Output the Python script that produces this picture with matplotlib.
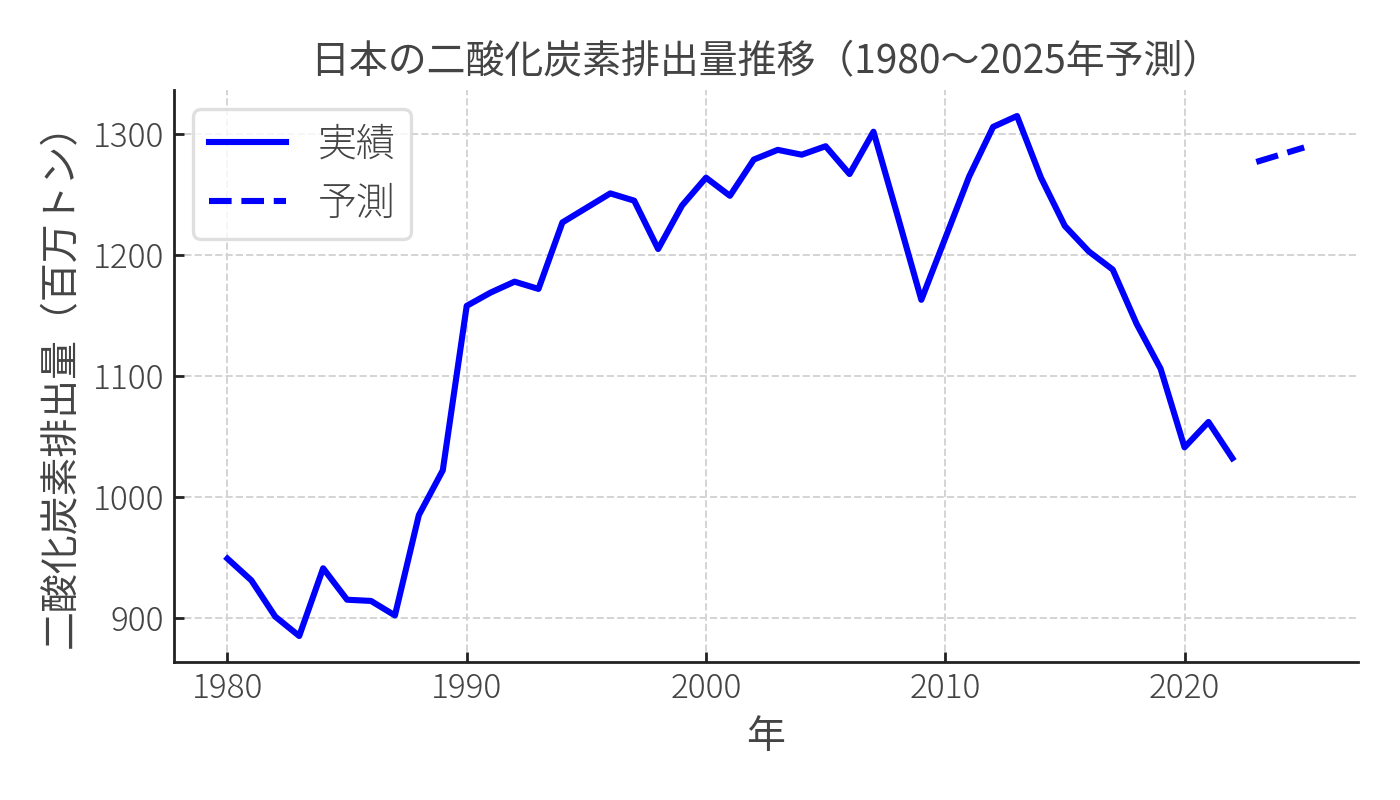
import numpy as np
import matplotlib
matplotlib.use('Agg')
import matplotlib.pyplot as plt

plt.rcParams['font.family'] = ['Noto Sans CJK JP', 'DejaVu Sans']
plt.rcParams['font.weight'] = 'light'

# 実績データ (百万トン)
years_actual = list(range(1980, 2023))
emissions_actual = [
    949, 931, 901, 885, 941, 915, 914, 902, 985, 1022,
    1158, 1169, 1178, 1172, 1227, 1239, 1251, 1245, 1205, 1241,
    1264, 1249, 1279, 1287, 1283, 1290, 1267, 1302, 1233, 1163,
    1214, 1265, 1306, 1315, 1264, 1224, 1203, 1188, 1143, 1106,
    1041, 1062, 1032,
]

# 予測データ
years_forecast = [2023, 2024, 2025]
emissions_forecast = [1277, 1283, 1289]

fig, ax = plt.subplots(figsize=(7, 4), dpi=200)
fig.subplots_adjust(left=0.124, right=0.97, top=0.8875, bottom=0.1725)

ax.plot(years_actual, emissions_actual, color='blue', linewidth=2.2, label='実績')
ax.plot(years_forecast, emissions_forecast, color='blue', linewidth=2.2,
        linestyle='--', label='予測')

ax.set_title('日本の二酸化炭素排出量推移（1980〜2025年予測）', fontsize=14, color='#444444')
ax.set_xlabel('年', fontsize=14, color='#444444')
ax.set_ylabel('二酸化炭素排出量（百万トン）', fontsize=14, color='#444444')

ax.set_xticks([1980, 1990, 2000, 2010, 2020])
ax.set_yticks([900, 1000, 1100, 1200, 1300])
ax.tick_params(axis='both', direction='in', labelsize=12, labelcolor='#444444',
               color='#222222', width=1.0)

ax.spines['top'].set_visible(False)
ax.spines['right'].set_visible(False)
for s in ('left', 'bottom'):
    ax.spines[s].set_color('#222222')
    ax.spines[s].set_linewidth(1.0)

ax.grid(True, linestyle='--', color='#d4d4d4', linewidth=0.7)

leg = ax.legend(loc='upper left', fontsize=14, labelcolor='#444444')
leg.get_frame().set_edgecolor('#d8d8d8')
leg.get_frame().set_linewidth(1.2)

fig.savefig('out.png', dpi=200)
plt.close(fig)
